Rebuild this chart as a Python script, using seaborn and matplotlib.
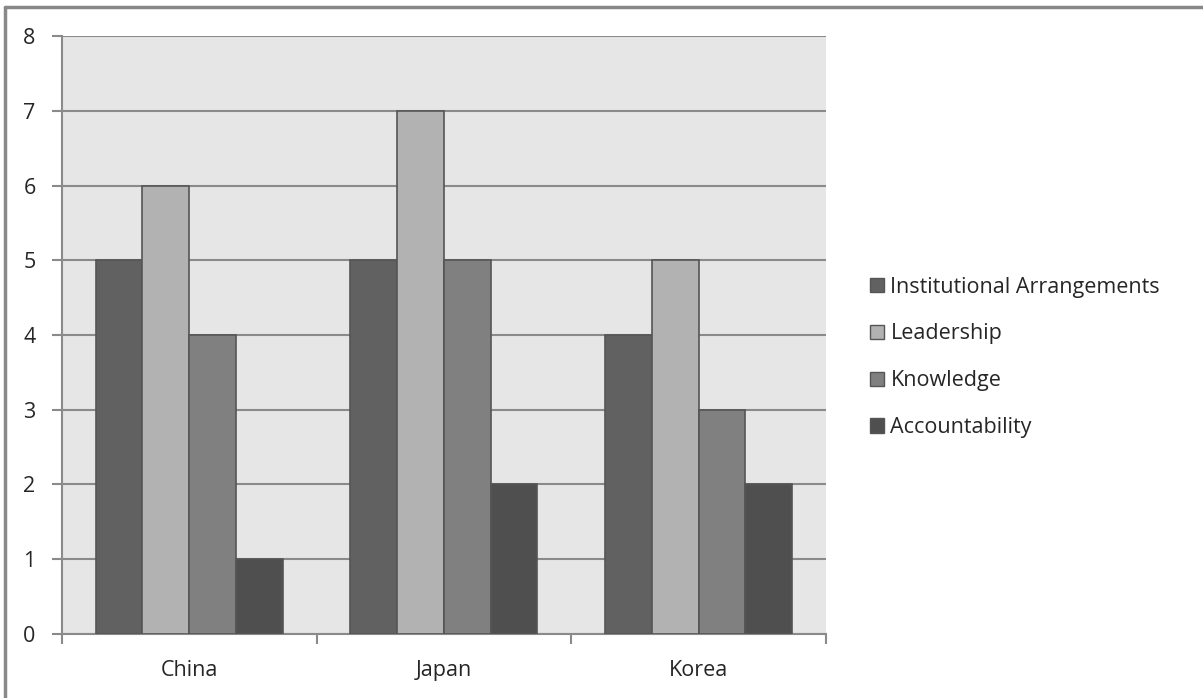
import pandas as pd
import matplotlib
matplotlib.use("Agg")
import matplotlib.pyplot as plt
import seaborn as sns
from matplotlib.lines import Line2D

# Chart data
countries = ["China", "Japan", "Korea"]
series = ["Institutional Arrangements", "Leadership", "Knowledge", "Accountability"]
institutional = [5, 5, 4]
leadership = [6, 7, 5]
knowledge = [4, 5, 3]
accountability = [1, 2, 2]
y_ticks = [0, 1, 2, 3, 4, 5, 6, 7, 8]

colors = ["#616161", "#b2b2b2", "#808080", "#4f4f4f"]

df = pd.DataFrame({
    "country": countries * 4,
    "series": [s for s in series for _ in countries],
    "value": institutional + leadership + knowledge + accountability,
})

sns.set_style("white")
plt.rcParams["font.family"] = ["Open Sans", "DejaVu Sans"]

fig = plt.figure(figsize=(12.03, 6.98), dpi=100)
ax = fig.add_axes([0.0515, 0.0917, 0.635, 0.8567])
ax.set_facecolor("#e6e6e6")

sns.barplot(data=df, x="country", y="value", hue="series", hue_order=series,
            palette=colors, width=0.735, edgecolor="#555555", linewidth=1.2,
            saturation=1, ax=ax, zorder=3)

ax.set_ylim(0, 8)
ax.set_xlim(-0.5, 2.5)
ax.set_yticks(y_ticks)
ax.set_xticks([-0.5, 0.5, 1.5, 2.5], minor=True)
ax.set_xticks([0, 1, 2])
ax.set_xticklabels(countries)
ax.yaxis.grid(True, color="#8a8a8a", linewidth=1.5, zorder=0)
ax.set_axisbelow(True)
for side in ["top", "right"]:
    ax.spines[side].set_visible(False)
for side in ["left", "bottom"]:
    ax.spines[side].set_color("#8a8a8a")
    ax.spines[side].set_linewidth(1.5)
ax.tick_params(axis="y", which="major", length=7, width=1.5, color="#8a8a8a",
               labelsize=15.5, pad=12, left=True)
ax.tick_params(axis="x", which="major", length=0, labelsize=15.5, pad=19)
ax.tick_params(axis="x", which="minor", length=7, width=1.5, color="#8a8a8a",
               bottom=True)
ax.set_xlabel("")
ax.set_ylabel("")

ax.get_legend().remove()
handles = [plt.Rectangle((0, 0), 1, 1, facecolor=c, edgecolor="#555555", linewidth=1)
           for c in colors]
fig.legend(handles, series, loc="upper left", bbox_to_anchor=(0.716, 0.616),
           frameon=False, fontsize=15.5, handlelength=0.65, handleheight=0.65,
           handletextpad=0.3, labelspacing=1.2, borderaxespad=0)

# outer chart border (top and left edges)
fig.add_artist(Line2D([0.0045, 1.0], [0.9905, 0.9905], transform=fig.transFigure,
                      color="#888888", linewidth=2.5))
fig.add_artist(Line2D([0.0045, 0.0045], [0.0, 0.9905], transform=fig.transFigure,
                      color="#888888", linewidth=2.5))

fig.savefig("out.png", dpi=100)
